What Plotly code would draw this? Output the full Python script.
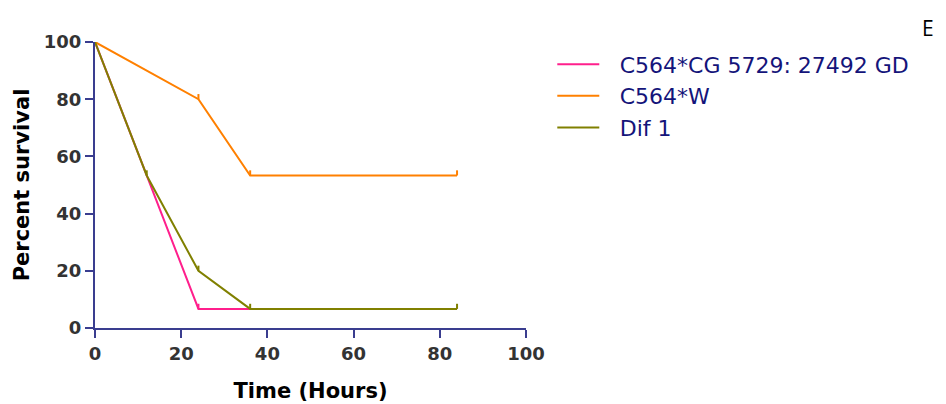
import plotly.graph_objects as go

# Data
series_names = ["C564*CG 5729: 27492 GD", "C564*W", "Dif 1"]
colors = ["#ff1f8c", "#ff8000", "#808000"]
time_pink = [0, 12, 24, 84]
surv_pink = [100, 53.33, 6.67, 6.67]
cens_x_pink = [24]
cens_y_pink = [6.67]

time_orange = [0, 24, 36, 84]
surv_orange = [100, 80, 53.33, 53.33]
cens_x_orange = [24, 36, 84]
cens_y_orange = [80, 53.33, 53.33]

time_olive = [0, 12, 24, 36, 84]
surv_olive = [100, 53.33, 20, 6.67, 6.67]
cens_x_olive = [12, 24, 36, 84]
cens_y_olive = [53.33, 20, 6.67, 6.67]

x_ticks = [0, 20, 40, 60, 80, 100]
y_ticks = [0, 20, 40, 60, 80, 100]

fig = go.Figure()
data = [
    (time_pink, surv_pink, cens_x_pink, cens_y_pink),
    (time_orange, surv_orange, cens_x_orange, cens_y_orange),
    (time_olive, surv_olive, cens_x_olive, cens_y_olive),
]
for name, col, (tx, sy, cx, cy) in zip(series_names, colors, data):
    fig.add_trace(go.Scatter(x=tx, y=sy, mode="lines", name="\u2002\u2009" + name,
                             line=dict(color=col, width=2), cliponaxis=False))
    fig.add_trace(go.Scatter(x=cx, y=cy, mode="markers", showlegend=False,
                             marker=dict(size=1, color=col, opacity=0),
                             error_y=dict(type="data", symmetric=False,
                                          array=[1.8] * len(cx), arrayminus=[0] * len(cx),
                                          color=col, thickness=2, width=0),
                             cliponaxis=False, hoverinfo="skip"))

axis_col = "#3a3d8f"
tick_font = dict(family="DejaVu Sans", size=18, color="#333333", weight="bold")
fig.update_xaxes(range=[0, 100], tickvals=x_ticks, showline=True, linecolor=axis_col,
                 linewidth=2, ticks="outside", tickcolor=axis_col, tickwidth=2, ticklen=8,
                 showgrid=False, zeroline=False, tickfont=tick_font, automargin=False,
                 title=dict(text="<b>Time (Hours)</b>", font=dict(family="DejaVu Sans", size=21, color="#000000"), standoff=21))
fig.update_yaxes(range=[0, 100], tickvals=y_ticks, showline=True, linecolor=axis_col,
                 linewidth=2, ticks="outside", tickcolor=axis_col, tickwidth=2, ticklen=8,
                 showgrid=False, zeroline=False, tickfont=tick_font, automargin=False,
                 title=dict(text="<b>Percent survival</b>", font=dict(family="DejaVu Sans", size=21, color="#000000"), standoff=8))
fig.update_layout(
    width=946, height=404,
    margin=dict(l=95, r=420, t=42, b=76, autoexpand=False),
    plot_bgcolor="white", paper_bgcolor="white",
    font=dict(family="DejaVu Sans"),
    legend=dict(x=1.061, xanchor="left", y=0.995, yanchor="top",
                font=dict(family="DejaVu Sans", size=22, color="#14147a"),
                itemwidth=42, bgcolor="rgba(0,0,0,0)", tracegroupgap=0),
    annotations=[dict(text="E", xref="paper", yref="paper", x=1.933, y=1.05,
                      xanchor="center", yanchor="middle", showarrow=False,
                      font=dict(family="Open Sans", size=21, color="#000000"))],
)
fig.write_html("out.html")
